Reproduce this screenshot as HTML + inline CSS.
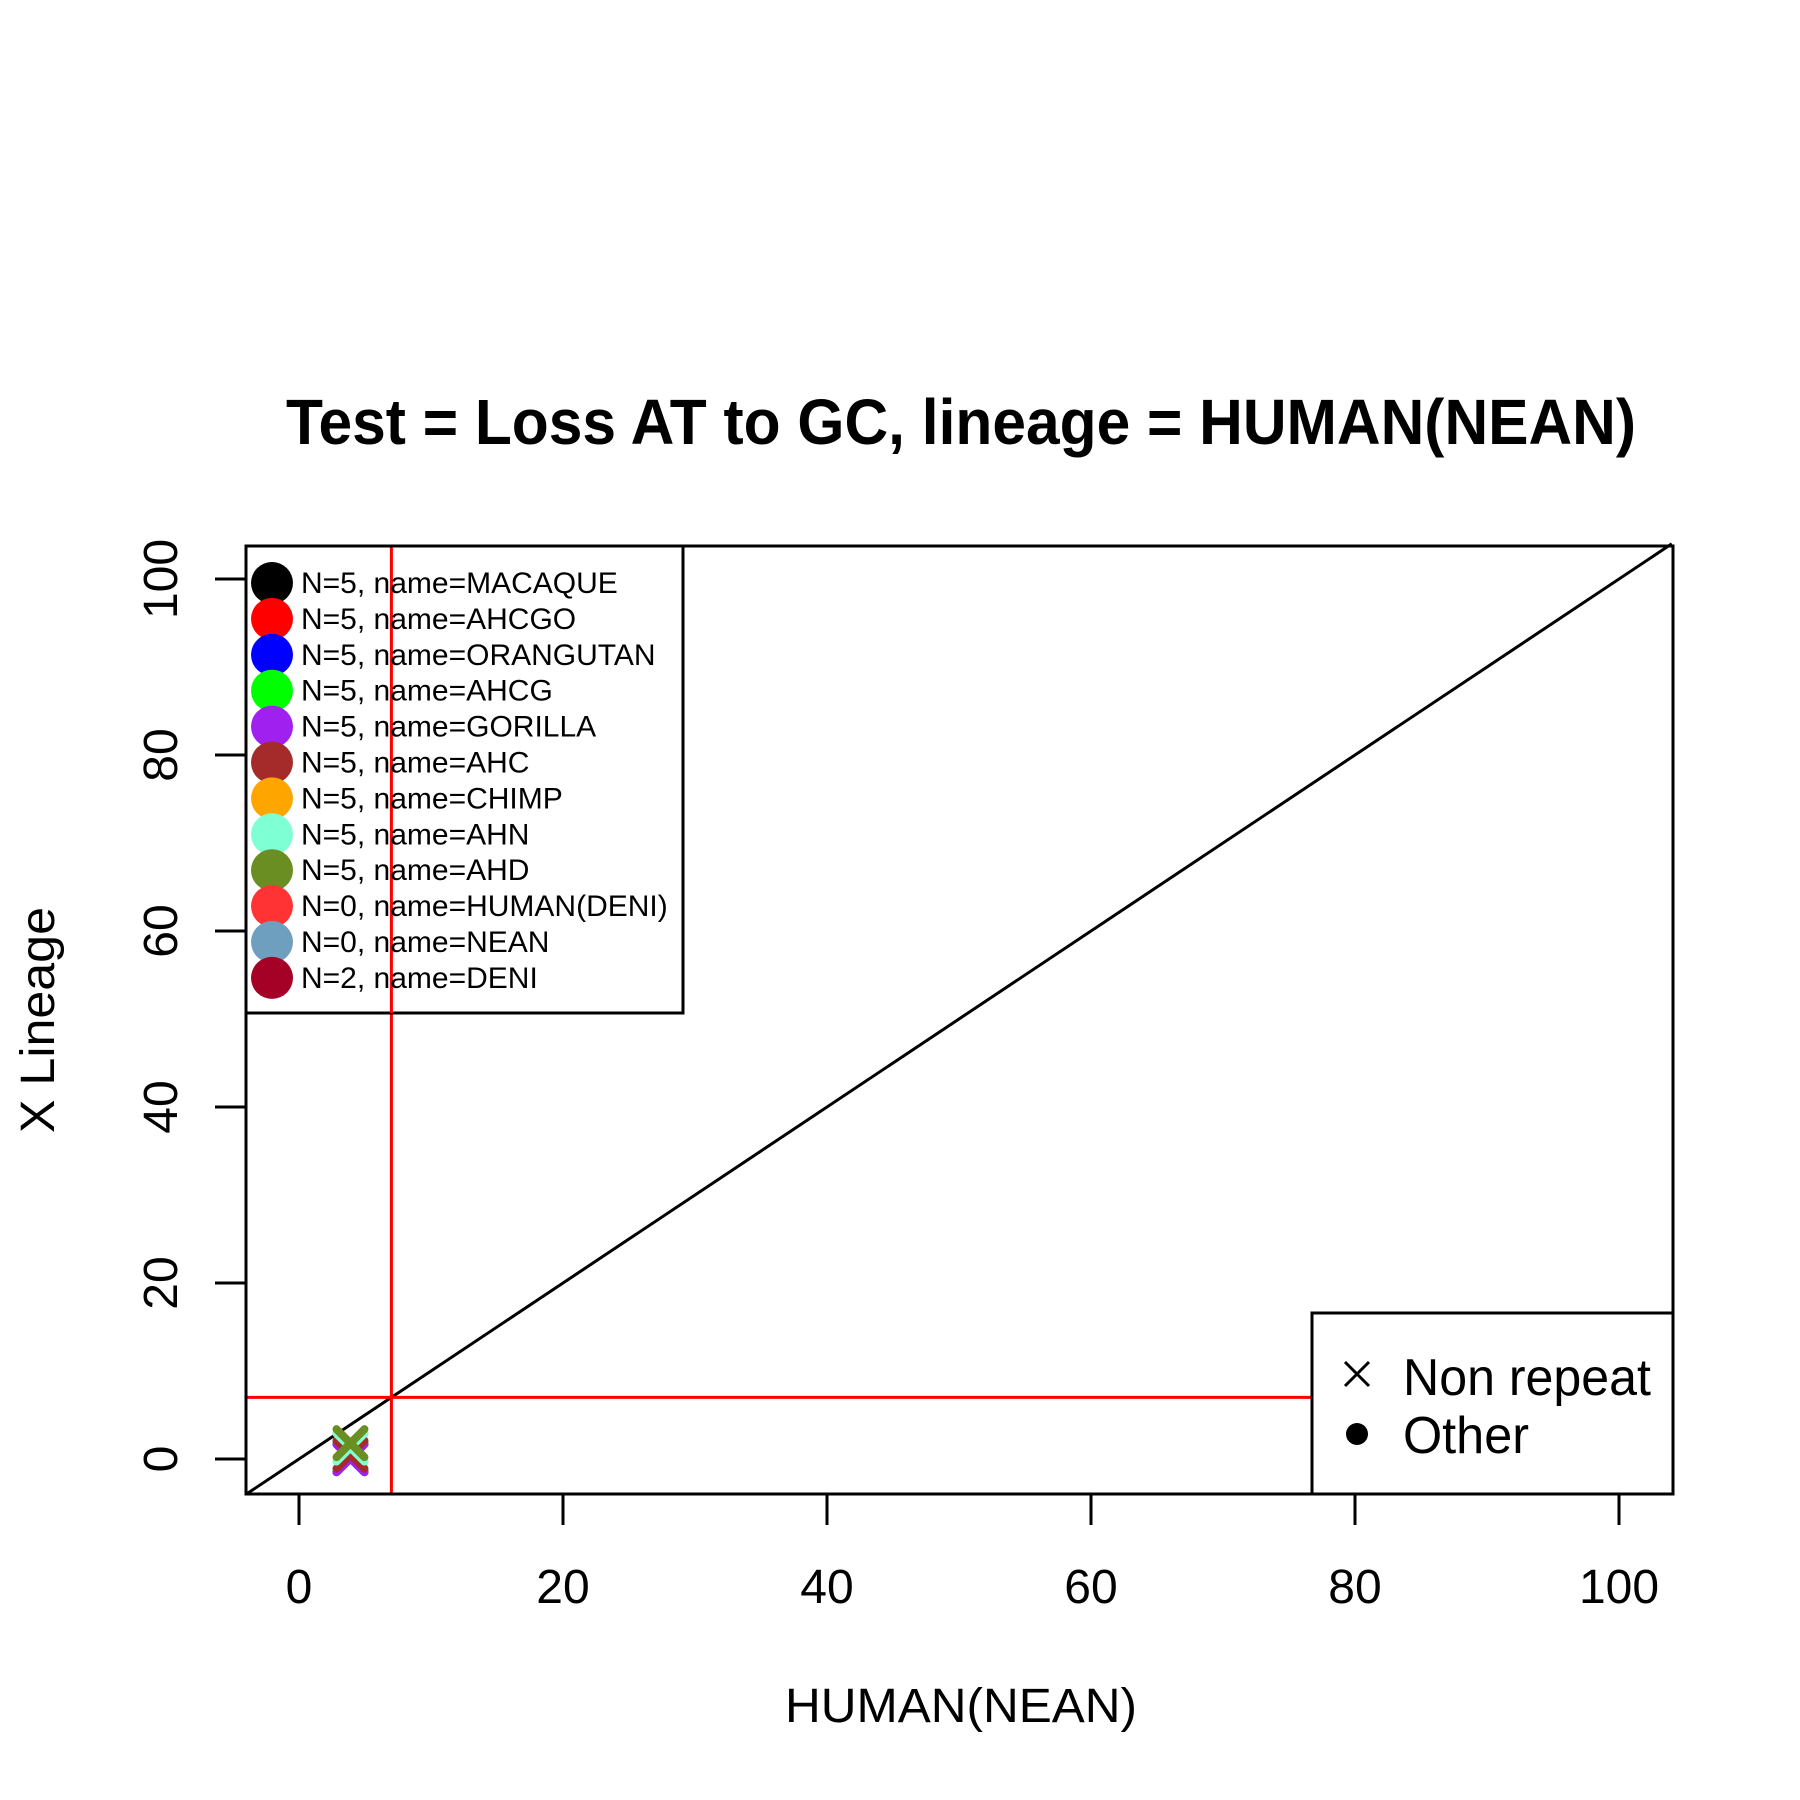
<!DOCTYPE html>
<html><head><meta charset="utf-8"><style>html,body{margin:0;padding:0;background:#fff}svg{display:block}</style></head>
<body>
<svg id="chart" width="1800" height="1800" viewBox="0 0 1800 1800" xmlns="http://www.w3.org/2000/svg" font-family="Liberation Sans, sans-serif">
<rect width="1800" height="1800" fill="#fff"/>
<text x="961" y="444" font-size="64" font-weight="bold" text-anchor="middle" textLength="1350" lengthAdjust="spacingAndGlyphs">Test = Loss AT to GC, lineage = HUMAN(NEAN)</text>
<text x="961" y="1722" font-size="48" text-anchor="middle" textLength="352" lengthAdjust="spacingAndGlyphs">HUMAN(NEAN)</text>
<text transform="translate(54,1020) rotate(-90)" font-size="48" text-anchor="middle" textLength="226" lengthAdjust="spacingAndGlyphs">X Lineage</text>
<g id="plot"></g>
</svg>
<script>
const xTicks = [0, 20, 40, 60, 80, 100];
const yTicks = [0, 20, 40, 60, 80, 100];
const seriesNames = ["MACAQUE","AHCGO","ORANGUTAN","AHCG","GORILLA","AHC","CHIMP","AHN","AHD","HUMAN(DENI)","NEAN","DENI"];
const seriesN = [5,5,5,5,5,5,5,5,5,0,0,2];
const seriesColors = ["#000000","#ff0000","#0000ff","#00ff00","#a020f0","#a52a2a","#ffa500","#7fffd4","#6b8e23","#ff3333","#6f9fbf","#a50026"];
const seriesX = [3.9,3.9,3.9,3.9,3.9,3.9,3.9,3.9,3.9,null,null,null];
const seriesY = [0.1,0.1,0.1,0.3,0.1,0.5,1.3,1.3,1.8,null,null,null];
const cutX = [7];
const cutY = [7];
const xMin=-4, xMax=104, yMin=-4, yMax=104;

const L=246,R=1673,T=546,B=1494;
const sx = v => 299 + v*13.2;
const sy = v => 1459 - v*8.8;
const NS="http://www.w3.org/2000/svg";
const g=document.getElementById('plot');
function mk(tag, attrs, parent){const e=document.createElementNS(NS,tag);for(const k in attrs)e.setAttribute(k,attrs[k]);(parent||g).appendChild(e);return e;}

let d=mk('line',{x1:sx(xMin),y1:sy(yMin),x2:sx(xMax),y2:sy(yMax),stroke:'#000','stroke-width':3});


cutX.forEach(v=>{const e=mk('line',{x1:sx(v),y1:T,x2:sx(v),y2:B,stroke:'#ff0000','stroke-width':3});

});
cutY.forEach(v=>{const e=mk('line',{x1:L,y1:sy(v),x2:R,y2:sy(v),stroke:'#ff0000','stroke-width':3});

});

seriesX.forEach((x,i)=>{
  if(x===null) return;
  const cx=sx(x), cy=sy(seriesY[i]), h=14;
  const p=mk('path',{d:`M${cx-h},${cy-h}L${cx+h},${cy+h}M${cx-h},${cy+h}L${cx+h},${cy-h}`,stroke:seriesColors[i],'stroke-width':8,'stroke-linecap':'round',fill:'none'});
  
  
});

let lb=mk('rect',{x:L,y:T,width:683-L,height:1013-T,fill:'#fff',stroke:'#000','stroke-width':3});


cutX.forEach(v=>{const e=mk('line',{x1:sx(v),y1:T,x2:sx(v),y2:1013,stroke:'#ff0000','stroke-width':3});

});
seriesNames.forEach((n,i)=>{
  const y=583+i*35.9;
  const c=mk('circle',{cx:272,cy:y,r:21,fill:seriesColors[i]});
  
  
  const t=mk('text',{x:301,y:y+10,'font-size':30});
  t.textContent=`N=${seriesN[i]}, name=${n}`;
  
  
});
let fr=mk('rect',{x:L,y:T,width:R-L,height:B-T,fill:'none',stroke:'#000','stroke-width':3});



let lb2=mk('rect',{x:1312,y:1313,width:R-1312,height:B-1313,fill:'#fff',stroke:'#000','stroke-width':3});


let xm=mk('path',{d:'M1345,1362L1369,1386M1345,1386L1369,1362',stroke:'#000','stroke-width':3,fill:'none'});


let t1=mk('text',{x:1403,y:1395,'font-size':52,textLength:248,lengthAdjust:'spacingAndGlyphs'});t1.textContent='Non repeat';


let dm=mk('circle',{cx:1357,cy:1434,r:11,fill:'#000'});


let t2=mk('text',{x:1403,y:1453,'font-size':52,textLength:126,lengthAdjust:'spacingAndGlyphs'});t2.textContent='Other';



xTicks.forEach(v=>{
  const l=mk('line',{x1:sx(v),y1:B,x2:sx(v),y2:B+31,stroke:'#000','stroke-width':3});
  
  
  const t=mk('text',{x:sx(v),y:1603,'font-size':48,'text-anchor':'middle'});t.textContent=v;
  
  
});
yTicks.forEach(v=>{
  const l=mk('line',{x1:L-31,y1:sy(v),x2:L,y2:sy(v),stroke:'#000','stroke-width':3});
  
  
  const t=mk('text',{transform:`translate(177,${sy(v)}) rotate(-90)`,'font-size':48,'text-anchor':'middle'});t.textContent=v;
  
  
});
</script>
</body></html>
